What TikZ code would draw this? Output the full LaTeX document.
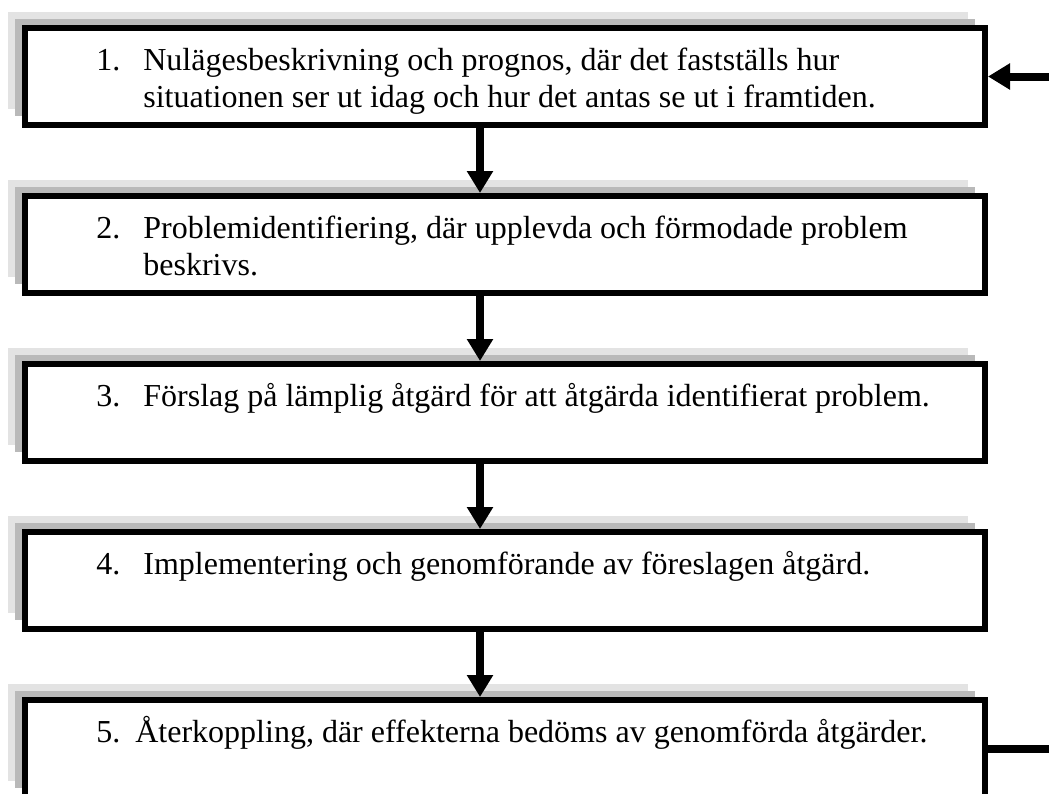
\documentclass[tikz,border=0pt]{standalone}
\usepackage{fontspec}
\setmainfont{Liberation Serif}
\usetikzlibrary{arrows.meta,shadows,positioning}

\tikzset{
  stepbox/.style={draw, line width=3pt, fill=white, inner sep=0pt,
    minimum width=480pt, minimum height=48.5pt,
    general shadow={shadow xshift=-8.5pt, shadow yshift=8pt, fill=gray!22},
    general shadow={shadow xshift=-5pt, shadow yshift=4.5pt, fill=gray!55}},
  steptext/.style={anchor=base west, inner sep=0pt,
    font=\fontsize{16}{18.5}\selectfont},
  flow/.style={line width=4pt, -{Triangle[width=12.5pt,length=11pt]}},
  backline/.style={line width=4pt},
}

\begin{document}
\begin{tikzpicture}[x=0.5pt, y=-0.5pt]
  \useasboundingbox (0,0) rectangle (1049,793);
  \clip (0,0) rectangle (1049,793);

  % steps
  \node[stepbox] (b1) at (505,76.5) {};
  \node[stepbox, below=32.5pt of b1] (b2) {};
  \node[stepbox, below=32.5pt of b2] (b3) {};
  \node[stepbox, below=32.5pt of b3] (b4) {};
  \node[stepbox, below=32.5pt of b4] (b5) {};

  \node[steptext] (t1) at (96,70) {\begin{tabular}[t]{@{}p{23.5pt}@{}l@{}}
      1. & Nulägesbeskrivning och prognos, där det fastställs hur\\
         & situationen ser ut idag och hur det antas se ut i framtiden.
    \end{tabular}};
  \node[steptext] (t2) at (96,238) {\begin{tabular}[t]{@{}p{23.5pt}@{}l@{}}
      2. & Problemidentifiering, där upplevda och förmodade problem\\
         & beskrivs.
    \end{tabular}};
  \node[steptext] (t3) at (96,406) {\begin{tabular}[t]{@{}p{23.5pt}@{}l@{}}
      3. & Förslag på lämplig åtgärd för att åtgärda identifierat problem.
    \end{tabular}};
  \node[steptext] (t4) at (96,574) {\begin{tabular}[t]{@{}p{23.5pt}@{}l@{}}
      4. & Implementering och genomförande av föreslagen åtgärd.
    \end{tabular}};
  \node[steptext] (t5) at (96,742) {\begin{tabular}[t]{@{}p{19.5pt}@{}l@{}}
      5. & Återkoppling, där effekterna bedöms av genomförda åtgärder.
    \end{tabular}};

  % arrows between steps
  \foreach \a/\b in {b1/b2, b2/b3, b3/b4, b4/b5}
    \draw[flow] ([xshift=-12.5pt]\a.south) -- ([xshift=-12.5pt]\b.north);

  % feedback
  \coordinate (fbin) at (1055,76.5);
  \coordinate (fbout) at (1055,748.5);
  \draw[flow] (fbin) -- (b1.east);
  \draw[backline] (b5.east) -- (fbout);
\end{tikzpicture}
\end{document}
